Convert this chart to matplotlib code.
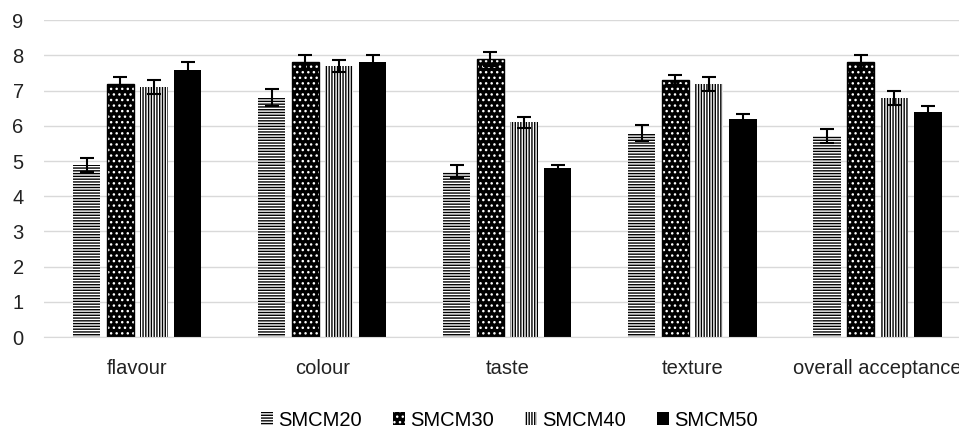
import numpy as np
import matplotlib.pyplot as plt

plt.rcParams['font.family'] = ['Liberation Sans', 'DejaVu Sans']
plt.rcParams['hatch.linewidth'] = 1.0

categories = ['flavour', 'colour', 'taste', 'texture', 'overall acceptance']
series = ['SMCM20', 'SMCM30', 'SMCM40', 'SMCM50']

smcm20 = [4.9, 6.8, 4.7, 5.8, 5.7]
smcm30 = [7.2, 7.8, 7.9, 7.3, 7.8]
smcm40 = [7.1, 7.7, 6.1, 7.2, 6.8]
smcm50 = [7.6, 7.8, 4.8, 6.2, 6.4]

err20 = [0.2, 0.25, 0.18, 0.22, 0.2]
err30 = [0.2, 0.2, 0.2, 0.15, 0.2]
err40 = [0.2, 0.18, 0.15, 0.2, 0.2]
err50 = [0.2, 0.2, 0.1, 0.15, 0.15]

values = [smcm20, smcm30, smcm40, smcm50]
errors = [err20, err30, err40, err50]

fig = plt.figure(figsize=(9.59, 4.30), dpi=100)
ax = fig.add_axes([0.0464, 0.216, 0.965, 0.737])

x = np.arange(len(categories))
step = 0.182
width = 0.148
offsets = (np.arange(4) - 1.5) * step

handles = []
for i, (vals, errs) in enumerate(zip(values, errors)):
    pos = x + offsets[i]
    if i == 0:
        b = ax.bar(pos, vals, width, facecolor='white', edgecolor='black',
                   hatch='------', linewidth=0, zorder=2)
    elif i == 1:
        b = ax.bar(pos, vals, width, facecolor='black', edgecolor='white',
                   hatch='...', linewidth=0, zorder=2)
        ax.bar(pos, vals, width, facecolor='none', edgecolor='black',
               linewidth=1, zorder=2)
    elif i == 2:
        b = ax.bar(pos, vals, width, facecolor='white', edgecolor='black',
                   hatch='||||||', linewidth=0, zorder=2)
    else:
        b = ax.bar(pos, vals, width, facecolor='black', edgecolor='black',
                   linewidth=0, zorder=2)
    ax.errorbar(pos, vals, yerr=errs, fmt='none', ecolor='black',
                elinewidth=1.5, capsize=5, capthick=1.5, zorder=3)
    handles.append(b)

ax.set_xlim(-0.5, len(categories) - 0.5)
ax.set_ylim(0, 9)
ax.set_yticks(range(10))
ax.set_xticks(x)
ax.set_xticklabels(categories)
ax.tick_params(axis='both', length=0, labelsize=14.5, colors='#222222')
ax.tick_params(axis='x', pad=16)
ax.tick_params(axis='y', pad=15)
ax.yaxis.grid(True, color='#d9d9d9', linewidth=1, zorder=0)
ax.set_axisbelow(True)
for s in ['top', 'right', 'left']:
    ax.spines[s].set_visible(False)
ax.spines['bottom'].set_color('#d9d9d9')

fig.legend(handles, series, loc='center', bbox_to_anchor=(0.531, 0.023),
           ncol=4, frameon=False, fontsize=14.5, handlelength=0.6,
           handleheight=0.6, handletextpad=0.25, columnspacing=1.55)

fig.savefig('out.png', dpi=100)
